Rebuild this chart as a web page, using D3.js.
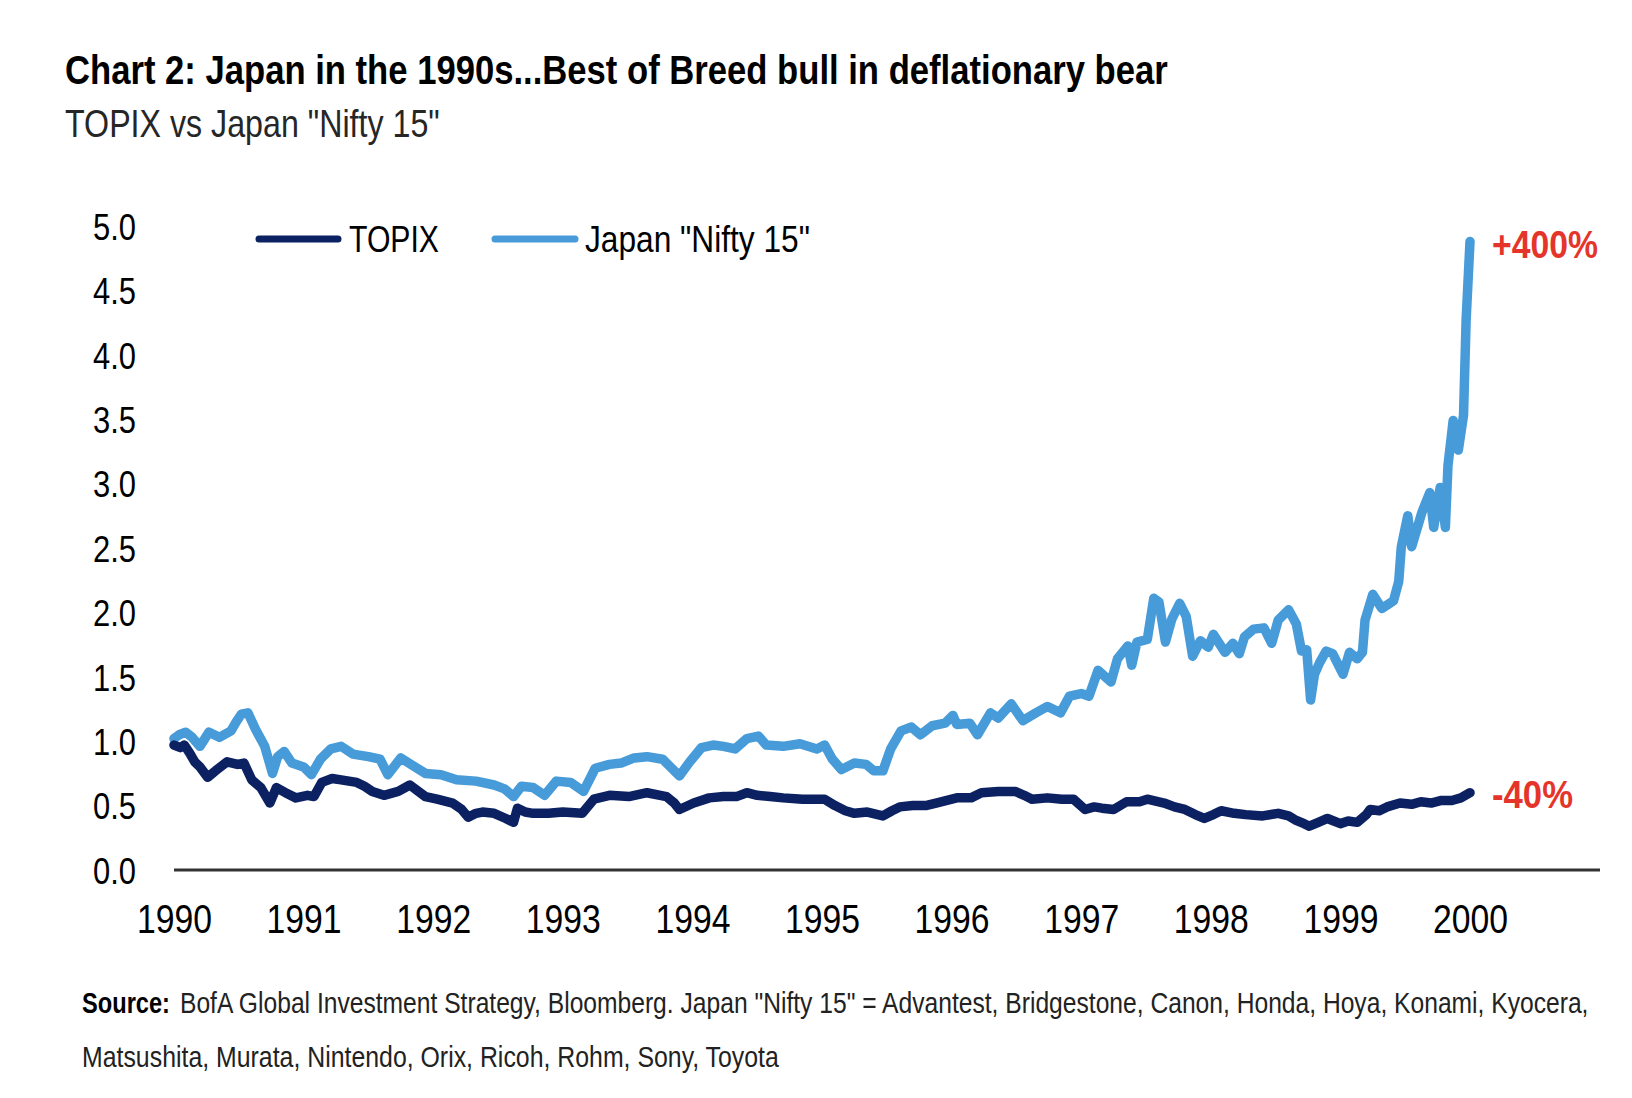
<!DOCTYPE html>
<html>
<head>
<meta charset="utf-8">
<script src="https://cdn.jsdelivr.net/npm/d3@7/dist/d3.min.js"></script>
<style>
  html, body { margin: 0; padding: 0; background: #fff; }
  svg { display: block; }
</style>
</head>
<body>
<svg id="chart" width="1632" height="1098"></svg>
<script>
// ---- data ----
const yTicks = [0, 0.5, 1.0, 1.5, 2.0, 2.5, 3.0, 3.5, 4.0, 4.5, 5.0];
const xTicks = [1990, 1991, 1992, 1993, 1994, 1995, 1996, 1997, 1998, 1999, 2000];
const seriesNames = ["TOPIX", "Japan \"Nifty 15\""];

const topixDates = [1990.00,1990.05,1990.08,1990.12,1990.16,1990.20,1990.26,1990.32,1990.41,1990.49,1990.54,1990.60,1990.67,1990.74,1990.79,1990.86,1990.94,1991.03,1991.08,1991.14,1991.22,1991.29,1991.41,1991.47,1991.53,1991.62,1991.73,1991.82,1991.94,1992.03,1992.15,1992.22,1992.27,1992.33,1992.38,1992.47,1992.56,1992.62,1992.65,1992.71,1992.77,1992.89,1993.00,1993.15,1993.24,1993.36,1993.51,1993.65,1993.80,1993.86,1993.90,1994.01,1994.13,1994.24,1994.34,1994.42,1994.50,1994.60,1994.70,1994.85,1995.02,1995.10,1995.18,1995.25,1995.35,1995.47,1995.54,1995.60,1995.70,1995.80,1995.88,1996.04,1996.15,1996.23,1996.36,1996.49,1996.56,1996.62,1996.74,1996.85,1996.94,1997.03,1997.10,1997.16,1997.25,1997.35,1997.45,1997.51,1997.64,1997.72,1997.80,1997.88,1997.95,1998.02,1998.08,1998.18,1998.27,1998.40,1998.52,1998.60,1998.65,1998.72,1998.76,1998.83,1998.90,1999.00,1999.06,1999.13,1999.20,1999.23,1999.30,1999.36,1999.46,1999.55,1999.62,1999.70,1999.78,1999.86,1999.93,2000.00];
const topixValues = [0.97,0.95,0.97,0.91,0.84,0.80,0.72,0.77,0.84,0.82,0.83,0.70,0.64,0.52,0.64,0.60,0.56,0.58,0.57,0.68,0.71,0.70,0.68,0.65,0.61,0.58,0.61,0.66,0.57,0.55,0.52,0.47,0.41,0.44,0.45,0.44,0.40,0.37,0.48,0.45,0.44,0.44,0.45,0.44,0.55,0.58,0.57,0.60,0.57,0.52,0.47,0.52,0.56,0.57,0.57,0.60,0.58,0.57,0.56,0.55,0.55,0.50,0.46,0.44,0.45,0.42,0.46,0.49,0.50,0.50,0.52,0.56,0.56,0.60,0.61,0.61,0.58,0.55,0.56,0.55,0.55,0.47,0.49,0.48,0.47,0.53,0.53,0.55,0.52,0.49,0.47,0.43,0.40,0.43,0.46,0.44,0.43,0.42,0.44,0.42,0.39,0.36,0.34,0.37,0.40,0.36,0.38,0.37,0.43,0.47,0.46,0.49,0.52,0.51,0.53,0.52,0.54,0.54,0.56,0.60];

const niftyDates = [1990.00,1990.04,1990.09,1990.14,1990.20,1990.27,1990.35,1990.44,1990.48,1990.52,1990.57,1990.63,1990.70,1990.76,1990.80,1990.85,1990.91,1991.00,1991.06,1991.13,1991.21,1991.29,1991.38,1991.50,1991.59,1991.65,1991.75,1991.86,1991.94,1992.06,1992.18,1992.33,1992.47,1992.55,1992.62,1992.68,1992.77,1992.86,1992.95,1993.06,1993.16,1993.25,1993.36,1993.45,1993.55,1993.65,1993.77,1993.90,1993.98,1994.07,1994.16,1994.24,1994.33,1994.42,1994.51,1994.57,1994.70,1994.83,1994.96,1995.02,1995.08,1995.15,1995.25,1995.34,1995.40,1995.47,1995.53,1995.61,1995.69,1995.76,1995.85,1995.95,1996.01,1996.04,1996.14,1996.20,1996.30,1996.36,1996.46,1996.55,1996.65,1996.74,1996.84,1996.91,1997.00,1997.06,1997.13,1997.23,1997.28,1997.36,1997.39,1997.43,1997.51,1997.56,1997.60,1997.65,1997.70,1997.76,1997.81,1997.86,1997.92,1997.98,1998.02,1998.11,1998.17,1998.22,1998.26,1998.33,1998.41,1998.47,1998.52,1998.60,1998.66,1998.70,1998.74,1998.77,1998.80,1998.84,1998.89,1998.94,1999.02,1999.07,1999.13,1999.17,1999.19,1999.25,1999.32,1999.41,1999.45,1999.47,1999.52,1999.55,1999.63,1999.69,1999.72,1999.77,1999.81,1999.83,1999.87,1999.91,1999.95,1999.97,2000.00];
const niftyValues = [1.02,1.05,1.07,1.03,0.96,1.07,1.03,1.08,1.15,1.21,1.22,1.09,0.96,0.75,0.88,0.92,0.83,0.80,0.74,0.86,0.94,0.96,0.90,0.88,0.86,0.74,0.87,0.80,0.75,0.74,0.70,0.69,0.66,0.63,0.57,0.65,0.64,0.58,0.69,0.68,0.61,0.79,0.82,0.83,0.87,0.88,0.86,0.73,0.84,0.95,0.97,0.96,0.94,1.02,1.04,0.97,0.96,0.98,0.94,0.97,0.86,0.78,0.83,0.82,0.77,0.77,0.94,1.08,1.11,1.05,1.12,1.14,1.20,1.13,1.14,1.05,1.22,1.18,1.29,1.16,1.22,1.27,1.22,1.35,1.37,1.35,1.55,1.46,1.64,1.74,1.59,1.77,1.79,2.11,2.08,1.77,1.95,2.07,1.97,1.66,1.78,1.73,1.83,1.69,1.76,1.68,1.81,1.87,1.88,1.76,1.94,2.02,1.91,1.70,1.71,1.32,1.52,1.61,1.70,1.68,1.52,1.69,1.64,1.69,1.94,2.14,2.03,2.09,2.24,2.51,2.75,2.51,2.78,2.93,2.66,2.97,2.66,3.14,3.49,3.26,3.53,4.27,4.88];

const annotations = ["+400%", "-40%"];
const titleText = "Chart 2: Japan in the 1990s...Best of Breed bull in deflationary bear";
const subtitleText = "TOPIX vs Japan \"Nifty 15\"";
const sourceLabel = "Source:";
const sourceLine1 = "BofA Global Investment Strategy, Bloomberg. Japan \"Nifty 15\" = Advantest, Bridgestone, Canon, Honda, Hoya, Konami, Kyocera,";
const sourceLine2 = "Matsushita, Murata, Nintendo, Orix, Ricoh, Rohm, Sony, Toyota";

// ---- styles ----
const NAVY = "#0c2161";
const BLUE = "#479bd8";
const RED = "#e5352b";
const FONT = "'Liberation Sans', Arial, sans-serif";

const svg = d3.select("#chart");

const x = d3.scaleLinear().domain([1990, 2000]).range([174, 1470]);
const y = d3.scaleLinear().domain([0, 5]).range([870, 226]);

function squeeze(sel, len) {
  return sel.attr("textLength", len).attr("lengthAdjust", "spacingAndGlyphs");
}
// condensed text via horizontal scaling so its box matches the target width
function narrowText(px, py, width, attrs, str) {
  const t = svg.append("text").attr("x", 0).attr("y", 0);
  Object.entries(attrs).forEach(([k, v]) => t.attr(k, v));
  t.text(str);
  const natural = t.node().getComputedTextLength();
  const sx = width / natural;
  t.attr("transform", `translate(${px},${py}) scale(${sx},1)`);
  return t;
}

// title & subtitle
narrowText(65, 84, 1103, {"font-family": FONT, "font-weight": "bold", "font-size": 40, "fill": "#000"}, titleText);
narrowText(65, 137, 375, {"font-family": FONT, "font-size": 39, "fill": "#262626"}, subtitleText);

// y axis labels
const yAxis = d3.axisLeft(y).tickValues(yTicks).tickSize(0).tickPadding(0)
  .tickFormat(d3.format(".1f"));
const gy = svg.append("g").attr("transform", "translate(136,0)").call(yAxis);
gy.select(".domain").remove();
squeeze(gy.selectAll("text").attr("font-family", FONT).attr("font-size", 37)
  .attr("fill", "#000").attr("dy", "0.36em").attr("x", 0), 43);

// x axis labels
const xAxis = d3.axisBottom(x).tickValues(xTicks).tickSize(0).tickPadding(0)
  .tickFormat(d3.format("d"));
const gx = svg.append("g").attr("transform", "translate(0,870)").call(xAxis);
gx.select(".domain").remove();
gx.selectAll("text").attr("font-family", FONT).attr("font-size", 40)
  .attr("fill", "#000").attr("y", 63).attr("dy", 0)
  .attr("text-anchor", "start")
  .attr("x", -37.5)
  .attr("textLength", 75).attr("lengthAdjust", "spacingAndGlyphs");

// baseline axis
svg.append("line").attr("x1", x(1990)).attr("x2", 1600)
  .attr("y1", y(0)).attr("y2", y(0))
  .attr("stroke", "#333").attr("stroke-width", 3);

// series lines
const line = d3.line().x(d => x(d[0])).y(d => y(d[1]));
const topixData = d3.zip(topixDates, topixValues);
const niftyData = d3.zip(niftyDates, niftyValues);

svg.append("path").datum(niftyData).attr("d", line)
  .attr("fill", "none").attr("stroke", BLUE).attr("stroke-width", 9.5)
  .attr("stroke-linejoin", "round").attr("stroke-linecap", "round");
svg.append("path").datum(topixData).attr("d", line)
  .attr("fill", "none").attr("stroke", NAVY).attr("stroke-width", 9.5)
  .attr("stroke-linejoin", "round").attr("stroke-linecap", "round");

// legend
const legend = [
  {name: seriesNames[0], color: NAVY, x1: 259, x2: 338, tx: 349, tl: 90},
  {name: seriesNames[1], color: BLUE, x1: 495, x2: 575, tx: 585, tl: 225}
];
legend.forEach(l => {
  svg.append("line").attr("x1", l.x1).attr("x2", l.x2).attr("y1", 239).attr("y2", 239)
    .attr("stroke", l.color).attr("stroke-width", 7).attr("stroke-linecap", "round");
  narrowText(l.tx, 252, l.tl, {"font-family": FONT, "font-size": 37, "fill": "#000"}, l.name);
});

// end annotations
narrowText(1492, 258, 106, {"font-family": FONT, "font-weight": "bold", "font-size": 38, "fill": RED}, annotations[0]);
narrowText(1492, 808, 81, {"font-family": FONT, "font-weight": "bold", "font-size": 38, "fill": RED}, annotations[1]);

// source
narrowText(82, 1013, 88, {"font-family": FONT, "font-weight": "bold", "font-size": 30, "fill": "#000"}, sourceLabel);
narrowText(180, 1013, 1409, {"font-family": FONT, "font-size": 30, "fill": "#222"}, sourceLine1);
narrowText(82, 1067, 697, {"font-family": FONT, "font-size": 30, "fill": "#222"}, sourceLine2);
</script>
</body>
</html>
